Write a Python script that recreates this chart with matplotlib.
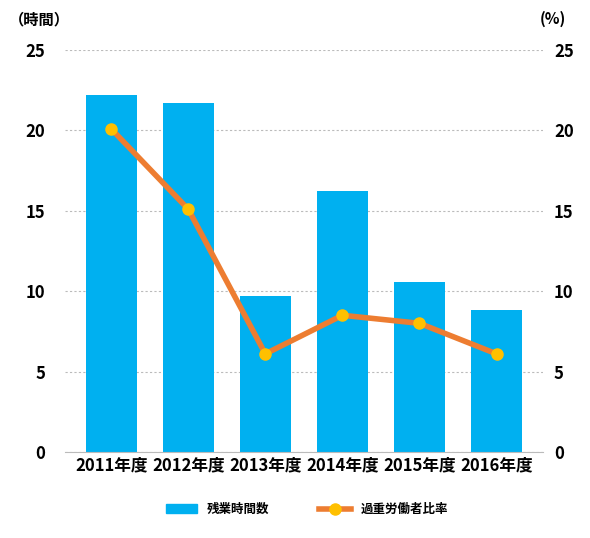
import matplotlib.pyplot as plt
from matplotlib.lines import Line2D
from matplotlib.patches import Patch

plt.rcParams['font.family'] = ['Noto Sans CJK JP', 'DejaVu Sans']
plt.rcParams['font.weight'] = 'bold'

years = ['2011年度', '2012年度', '2013年度', '2014年度', '2015年度', '2016年度']
overtime = [22.2, 21.7, 9.7, 16.2, 10.6, 8.8]
ratio = [20.1, 15.1, 6.1, 8.5, 8.0, 6.1]

fig = plt.figure(figsize=(5.9, 5.38), dpi=100)
ax = fig.add_axes([0.11, 0.16, 0.81, 0.747])
x = range(len(years))
ax.bar(x, overtime, width=0.66, color='#00B0F0', zorder=2)
ax.set_ylim(0, 25)
ax.set_xlim(-0.6, 5.6)
ax.set_yticks(range(0, 26, 5))
ax.grid(axis='y', color='#bbbbbb', linestyle=(0, (2, 2)), linewidth=0.8, zorder=0)
ax.set_axisbelow(True)
ax.set_xticks(list(x))
ax.set_xticklabels(years, fontsize=9, fontweight='bold')
for s in ax.spines.values():
    s.set_visible(False)
ax.spines['bottom'].set_visible(True)
ax.spines['bottom'].set_color('#bbbbbb')
ax.tick_params(length=0, labelsize=12)
ax.tick_params(axis='y', pad=14)

ax2 = ax.twinx()
ax2.plot(x, ratio, color='#ED7D31', linewidth=4, marker='o', markersize=8,
         markerfacecolor='#FFC000', markeredgecolor='#FFC000', zorder=3)
ax2.set_ylim(0, 25)
ax2.set_yticks(range(0, 26, 5))
for s in ax2.spines.values():
    s.set_visible(False)
ax2.tick_params(length=0, labelsize=12, pad=8)
for lab in ax.get_yticklabels() + ax2.get_yticklabels():
    lab.set_fontweight('bold')

fig.text(0.015, 0.955, '（時間）', fontsize=11, fontweight='bold')
fig.text(0.915, 0.955, '(%)', fontsize=11, fontweight='bold')

handles = [Patch(color='#00B0F0', label='残業時間数'),
           Line2D([0], [0], color='#ED7D31', linewidth=4, marker='o', markersize=8,
                  markerfacecolor='#FFC000', markeredgecolor='#FFC000', label='過重労働者比率')]
fig.legend(handles=handles, loc='lower center', bbox_to_anchor=(0.52, 0.02), ncol=2,
           frameon=False, fontsize=9, columnspacing=4, handlelength=2.5)

fig.savefig('out.png', dpi=100)
